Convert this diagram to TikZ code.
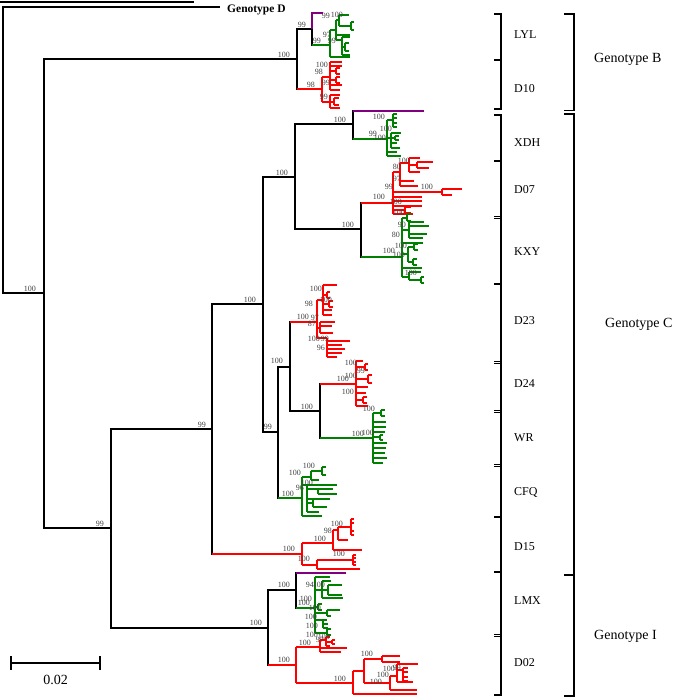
\documentclass[tikz,border=0pt]{standalone}
\usepackage{fontspec}
\setmainfont{Liberation Serif}
\definecolor{clgreen}{RGB}{0,128,0}
\definecolor{clpurple}{RGB}{128,0,128}
% comb: vertical at x from y1 to y2, then ticks y/length
\newcommand{\comb}[4]{%
  \draw (#1,#2) -- (#1,#3);
  \foreach \yy/\dx in {#4} {\draw (#1,\yy) -- ++(\dx,0);}}
% elbow from parent node to child node
\newcommand{\elbow}[3][black]{%
  \draw[trunk] (#2) |- (#3);
  \draw[trunk, #1] (#2 |- #3) -- (#3);}

\begin{document}
\begin{tikzpicture}[x=1pt, y=-1pt,
    trunk/.style={line width=1.9pt},
    twig/.style={line width=1.5pt},
    bs/.style={anchor=south east, inner sep=0pt, font=\fontsize{8}{8}\selectfont, text=black!75},
    clade/.style={anchor=west, inner sep=0pt, font=\fontsize{12}{12}\selectfont},
    geno/.style={anchor=west, inner sep=0pt, font=\fontsize{14}{14}\selectfont},
    bracket/.style={line width=1.8pt}]
    \useasboundingbox (0,0) rectangle (675,699);

    % backbone nodes
    \coordinate (rt) at (3,150);
    \coordinate (gD) at (220,7);
    \coordinate (nA) at (44,293);
    \coordinate (nB) at (297,59);
    \coordinate (nBa) at (312,29);
    \coordinate (pB) at (323,13);
    \coordinate (cLYL) at (330,45);
    \coordinate (cD10) at (322,89);
    \coordinate (nCI) at (111,528);
    \coordinate (nC) at (212,429);
    \coordinate (nC1) at (263,304);
    \coordinate (nC2) at (295,177);
    \coordinate (nX) at (353,124);
    \coordinate (pX) at (424,111);
    \coordinate (cXDH) at (387,139);
    \coordinate (nDK) at (361,229);
    \coordinate (cD07) at (393,203);
    \coordinate (cKXY) at (402,257);
    \coordinate (nC3) at (278,432);
    \coordinate (nC4) at (290,367);
    \coordinate (cD23) at (317,322);
    \coordinate (nC5) at (320,411);
    \coordinate (cD24) at (356,384);
    \coordinate (cWR) at (373,438);
    \coordinate (cCFQ) at (302,498);
    \coordinate (cD15) at (302,554);
    \coordinate (nI) at (268,628);
    \coordinate (nL) at (296,590);
    \coordinate (pL) at (346,573);
    \coordinate (cLMX) at (315,608);
    \coordinate (cD02) at (296,665);

    \draw[trunk] (0,2) -- (194,2);
    \elbow{rt}{gD}
    \elbow{rt}{nA}
    \elbow{nA}{nB}
    \elbow{nA}{nCI}
    \elbow{nB}{nBa}
    \elbow[red]{nB}{cD10}
    \draw[trunk, clpurple] (nBa) |- (pB);
    \elbow[clgreen]{nBa}{cLYL}
    \elbow{nCI}{nC}
    \elbow{nCI}{nI}
    \elbow{nC}{nC1}
    \elbow[red]{nC}{cD15}
    \elbow{nC1}{nC2}
    \elbow{nC1}{nC3}
    \elbow{nC2}{nX}
    \elbow{nC2}{nDK}
    \elbow[clpurple]{nX}{pX}
    \elbow[clgreen]{nX}{cXDH}
    \elbow[red]{nDK}{cD07}
    \elbow[clgreen]{nDK}{cKXY}
    \elbow{nC3}{nC4}
    \elbow[clgreen]{nC3}{cCFQ}
    \elbow[red]{nC4}{cD23}
    \elbow{nC4}{nC5}
    \elbow[red]{nC5}{cD24}
    \elbow[clgreen]{nC5}{cWR}
    \elbow{nI}{nL}
    \elbow[red]{nI}{cD02}
    \elbow[clpurple]{nL}{pL}
    \elbow[clgreen]{nL}{cLMX}

    % LYL
    \begin{scope}[twig, clgreen]
        \comb{330}{30}{57}{30/6, 57/20}
        \comb{336}{20}{40}{20/3, 35/14, 40/6}
        \comb{339}{15}{26}{15/10, 26/12}
        \comb{351}{22}{30}{22/3, 30/3}
        \comb{342}{37}{55}{37/8, 47/3, 55/8}
        \comb{345}{43}{51}{43/4, 51/4}
    \end{scope}
    % D10
    \begin{scope}[twig, red]
        \comb{322}{77}{102}{77/8, 102/8}
        \comb{330}{62}{90}{62/12, 66/12, 71/6, 80/6, 85/12, 90/10}
        \comb{336}{68}{74}{68/4, 74/4}
        \comb{336}{77}{83}{77/4, 83/4}
        \comb{330}{95}{108}{95/10, 102/4, 108/10}
        \comb{334}{98}{105}{98/5, 105/5}
    \end{scope}
    % XDH
    \begin{scope}[twig, clgreen]
        \comb{387}{120}{156}{120/6, 138/4, 152/10, 156/14}
        \comb{393}{114}{127}{114/4, 118/4, 123/4, 127/4}
        \comb{391}{133}{148}{133/10, 138/4, 143/6, 148/9}
        \comb{395}{136}{140}{136/4, 140/4}
    \end{scope}
    % D07
    \begin{scope}[twig, red]
        \comb{393}{172}{214}{172/7, 192/49, 197/29, 201/29, 206/29, 210/12, 214/20}
        \comb{400}{163}{186}{163/9, 181/14, 186/18}
        \comb{409}{158}{172}{158/11, 165/8, 172/11}
        \comb{417}{162}{168}{162/16, 168/12}
        \comb{442}{189}{195}{189/20, 195/10}
        \comb{405}{207}{213}{207/6, 213/6}
    \end{scope}
    % KXY
    \begin{scope}[twig, clgreen]
        \comb{402}{218}{277}{218/5, 230/7, 243/21, 254/6, 268/20, 277/7}
        \comb{407}{214}{221}{214/4, 221/4}
        \comb{409}{222}{238}{222/15, 226/20, 234/18, 238/14}
        \comb{408}{247}{262}{247/6, 262/5}
        \comb{414}{244}{250}{244/4, 250/4}
        \comb{413}{259}{265}{259/4, 265/4}
        \comb{409}{272}{280}{272/12, 280/12}
        \comb{421}{277}{283}{277/3, 283/3}
    \end{scope}
    % D23
    \begin{scope}[twig, red]
        \comb{317}{300}{338}{300/6, 328/3, 338/10}
        \comb{323}{285}{315}{285/14, 295/4, 304/6, 310/9, 315/9}
        \comb{327}{292}{298}{292/3, 298/3}
        \comb{329}{301}{307}{301/4, 307/4}
        \comb{320}{322}{333}{322/15, 326/12, 333/13}
        \comb{327}{338}{357}{341/23, 345/15, 349/18, 353/15, 357/10}
    \end{scope}
    % D24
    \begin{scope}[twig, red]
        \comb{356}{361}{406}{361/7, 367/9, 379/12, 387/12, 393/10, 400/7, 406/12}
        \comb{365}{364}{370}{364/3, 370/3}
        \comb{368}{375}{383}{375/4, 383/4}
        \comb{363}{397}{403}{397/4, 403/4}
    \end{scope}
    % WR
    \begin{scope}[twig, clgreen]
        \comb{373}{413}{463}{413/8, 422/13, 427/13, 432/12, 437/7, 443/14, 448/13, 453/12, 458/14, 463/10}
        \comb{381}{410}{416}{410/4, 416/4}
        \comb{380}{435}{440}{435/3, 440/3}
    \end{scope}
    % CFQ
    \begin{scope}[twig, clgreen]
        \comb{302}{477}{516}{477/9, 485/5, 516/20}
        \comb{311}{471}{480}{471/11, 480/8}
        \comb{322}{467}{475}{467/4, 475/4}
        \comb{307}{485}{512}{485/30, 489/11, 499/8, 503/6, 512/12}
        \comb{318}{489}{494}{489/15, 494/19}
        \comb{313}{499}{507}{499/17, 507/14}
    \end{scope}
    % D15
    \begin{scope}[twig, red]
        \comb{302}{543}{565}{543/31, 565/15}
        \comb{333}{530}{550}{530/5, 550/29}
        \comb{338}{527}{540}{527/13, 540/10}
        \comb{351}{519}{535}{519/3, 523/3, 531/3, 535/3}
        \comb{317}{560}{569}{560/36, 569/43}
        \comb{353}{555}{565}{555/3, 558/3, 562/3, 565/3}
    \end{scope}
    % LMX
    \begin{scope}[twig, clgreen]
        \comb{315}{577}{633}{577/15, 590/7, 607/3, 613/12, 620/8, 633/12}
        \comb{322}{581}{598}{581/9, 590/6, 598/21}
        \comb{328}{585}{595}{585/14, 595/14}
        \comb{318}{604}{610}{604/4, 610/4}
        \comb{327}{610}{616}{610/13, 616/4}
        \comb{323}{620}{628}{620/4, 624/5, 628/5}
        \comb{327}{629}{635}{629/4, 635/4}
    \end{scope}
    % D02
    \begin{scope}[twig, red]
        \comb{296}{647}{683}{647/24, 683/57}
        \comb{320}{640}{652}{640/6, 648/27, 652/21}
        \comb{326}{637}{646}{637/4, 642/6, 646/4}
        \comb{332}{640}{644}{640/3, 644/3}
        \comb{353}{671}{694}{671/11, 694/64}
        \comb{364}{659}{683}{659/18, 683/26}
        \comb{382}{656}{662}{656/18, 662/18}
        \comb{390}{676}{690}{676/7, 690/27}
        \comb{397}{664}{682}{664/21, 670/6, 682/16}
        \comb{403}{668}{681}{668/5, 672/5, 677/5, 681/5}
    \end{scope}

    % bootstrap values
    \foreach \px/\py/\bv [count=\i] in {
        36/292/100, 290/58/100, 306/28/99, 315/88/98, 104/527/99, 206/428/99,
        256/303/100, 288/176/100, 346/123/100, 354/228/100, 272/430/99, 283/364/100,
        313/410/100, 309/320/100, 349/382/100, 294/497/100, 295/552/100, 262/626/100,
        290/588/100, 290/663/100,
        364/437/100, 374/436/100, 377/137/99, 392/132/100, 386/141/100,
        395/254/100, 405/258/100, 385/200/100,
        330/19/99, 343/18/100, 331/38/97, 336/44/99, 321/44/99,
        328/68/100, 323/75/98, 330/86/99, 328/100/99,
        385/120/100,
        410/164/100, 401/170/80, 401/182/97, 393/190/99, 433/190/100, 402/205/100, 405/216/100,
        406/228/90, 400/238/80, 407/249/100, 417/276/100,
        322/292/100, 313/307/98, 332/303/100, 319/321/97, 316/327/87, 320/342/100, 329/342/99, 325/351/96,
        357/366/100, 357/379/100, 365/374/99, 354/395/100,
        375/412/100,
        315/469/100, 301/476/100, 304/491/96, 313/486/100,
        343/527/100, 332/534/98, 326/542/100, 310/562/100, 345/557/100,
        314/588/94, 325/588/100, 312/602/100, 310/606/100, 321/611/100, 317/620/100, 318/629/100,
        311/646/100, 318/638/100, 324/643/97, 330/640/100,
        346/682/100, 373/657/100, 382/685/100, 389/678/100, 395/672/100, 401/671/99}
        \node[bs] (bs\i) at (\px,\py) {\bv};

    % outgroup label
    \node[anchor=west, inner sep=0pt, font=\bfseries\fontsize{11.5}{11.5}\selectfont] (lgD) at (227,10) {Genotype D};

    % lineage brackets
    \draw[bracket] (494,14) -- (501,14) -- (501,109) -- (494,109);
    \draw[bracket] (494,60) -- (501,60);
    \draw[bracket] (494,115) -- (501,115) -- (501,695) -- (494,695);
    \foreach \yt in {161, 284, 517, 572}
        \draw[bracket] (494,\yt) -- (501,\yt);
    \foreach \yt in {216, 361, 410, 464, 634}
        \draw[line width=1pt] (494,\yt) -- (501,\yt) (494,\yt+2.6) -- (501,\yt+2.6);
    \foreach \nm/\yc in {LYL/35, D10/89, XDH/143, D07/190, KXY/252, D23/321,
        D24/384, WR/438, CFQ/492, D15/547, LMX/601, D02/663}
        \node[clade] (l\nm) at (514,\yc) {\nm};

    % genotype brackets
    \draw[bracket] (564,14) -- (574,14) -- (574,110.5) -- (564,110.5);
    \draw[bracket] (564,114) -- (574,114) -- (574,696) -- (564,696);
    \draw[bracket] (564,575) -- (574,575);
    \node[geno] (gB) at (594,59) {Genotype B};
    \node[geno] (gC) at (605,324) {Genotype C};
    \node[geno] (gI) at (594,636) {Genotype I};

    % scale bar
    \draw[trunk] (11,663) -- (100,663);
    \draw[trunk] (11,656) -- (11,670);
    \draw[trunk] (100,656) -- (100,670);
    \node[font=\fontsize{14}{14}\selectfont] (sc) at (55.5,680) {0.02};
\end{tikzpicture}
\end{document}
